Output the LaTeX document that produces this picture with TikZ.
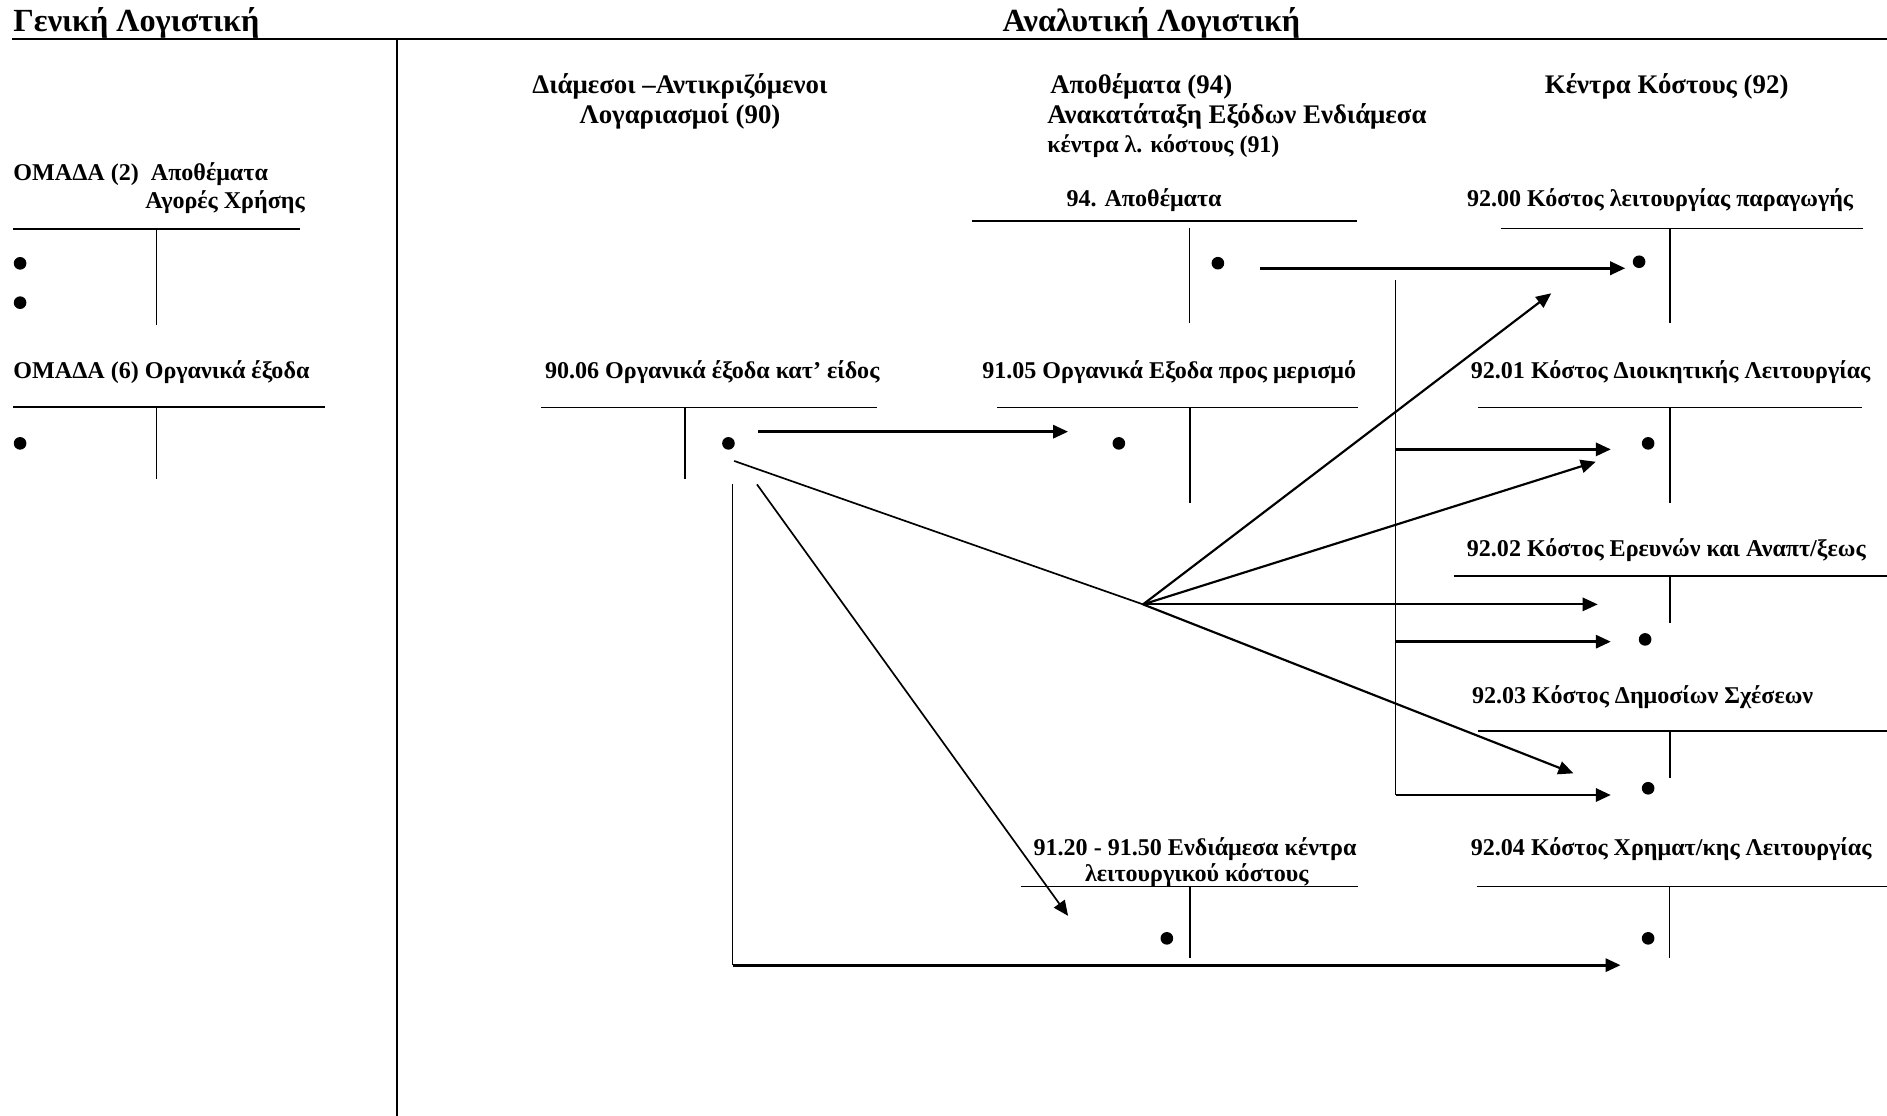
\documentclass[tikz,border=0pt]{standalone}
\usepackage{fontspec}
\setmainfont{Liberation Serif}
\usetikzlibrary{arrows.meta}
\begin{document}
\begin{tikzpicture}[x=1pt,y=-1pt,
  lbl/.style={inner sep=0pt, anchor=base west, font=\bfseries\fontsize{20}{23}\selectfont},
  hdr/.style={inner sep=0pt, anchor=base west, font=\bfseries\fontsize{26.8}{30}\selectfont},
  sub/.style={inner sep=0pt, anchor=base west, font=\bfseries\fontsize{22.3}{26}\selectfont},
  small/.style={inner sep=0pt, anchor=base west, font=\bfseries\fontsize{19.9}{23}\selectfont},
  tline/.style={line width=1.3pt},
  rule/.style={line width=1.7pt},
  harr/.style={line width=2.2pt, -{Triangle[length=12.5pt,width=11pt]}},
  darr/.style={line width=1.8pt, -{Triangle[length=12.5pt,width=11pt]}},
  tarr/.style={line width=1.4pt, -{Triangle[length=12.5pt,width=11pt]}},
  vline/.style={line width=1.4pt},
  dot/.style={circle, fill=black, inner sep=0pt, minimum size=10.5pt},
]
\fill[white] (0,0) rectangle (1568,927);
\useasboundingbox (0,0) rectangle (1568,927);

% headers
\node[hdr] (gen) at (11,26.3) {Γενική Λογιστική};
\node[hdr] (anal) at (833,26.3) {Αναλυτική Λογιστική};
\coordinate (topL) at (10,32.7);
\coordinate (topR) at (1568,32.7);
\draw[rule] (topL) -- (topR);
\coordinate (divT) at (330,32.7);
\coordinate (divB) at (330,927);
\draw[rule] (divT) -- (divB);

% left: group 2
\node[lbl] (g2a) at (11,149.6) {ΟΜΑΔΑ (2)\ \ Αποθέματα};
\node[lbl] (g2b) at (120.6,173) {Αγορές Χρήσης};
\draw[tline] (11,190.3) -- (249.6,190.3);
\draw[tline] (130,190.3) -- (130,270);
\node[dot] (d2a) at (16.7,218.8) {};
\node[dot] (d2b) at (16.7,251.5) {};

% left: group 6
\node[lbl] (g6) at (11,314.4) {ΟΜΑΔΑ (6) Οργανικά έξοδα};
\draw[tline] (11,338) -- (269.7,338);
\draw[tline] (130,338) -- (130,398);
\node[dot] (d6) at (16.7,368.4) {};

% middle headers
\node[sub, anchor=base] (h90a) at (565,77.6) {Διάμεσοι –Αντικριζόμενοι};
\node[sub, anchor=base] (h90b) at (565,103) {Λογαριασμοί (90)};
\node[sub] (h94) at (872.5,77.6) {Αποθέματα (94)};
\node[sub] (h91a) at (870,103) {Ανακατάταξη Εξόδων Ενδιάμεσα};
\node[small] (h91b) at (870,126.5) {κέντρα λ. κόστους (91)};
\node[sub] (h92) at (1283.5,77.6) {Κέντρα Κόστους (92)};

% 94
\node[lbl] (t94) at (886,172) {94. Αποθέματα};
\draw[tline] (808,183.4) -- (1127.8,183.4);
\draw[tline] (988.4,189.6) -- (988.4,268.5);
\node[dot] (d94) at (1012,218.7) {};

% 92.00
\node[lbl] (t9200) at (1218.8,172) {92.00 Κόστος λειτουργίας παραγωγής};
\draw[tline] (1247,189.7) -- (1548,189.7);
\draw[tline] (1387.7,189.7) -- (1387.7,268.6);
\node[dot] (d9200) at (1362,217.5) {};

% 90.06
\node[lbl] (t9006) at (452.7,314.4) {90.06 Οργανικά έξοδα κατ’ είδος};
\draw[tline] (449.8,338.5) -- (728.8,338.5);
\draw[tline] (569,338.5) -- (569,398);
\node[dot] (d9006) at (605.3,368.4) {};

% 91.05
\node[lbl] (t9105) at (816,314.4) {91.05 Οργανικά Εξοδα προς μερισμό};
\draw[tline] (828.5,338.5) -- (1128,338.5);
\draw[tline] (988.9,338.5) -- (988.9,418);
\node[dot] (d9105) at (929.7,368.4) {};

% 92.01
\node[lbl] (t9201) at (1222,314.4) {92.01 Κόστος Διοικητικής Λειτουργίας};
\draw[tline] (1228,338.5) -- (1547,338.5);
\draw[tline] (1387.7,338.5) -- (1387.7,418);
\node[dot] (d9201) at (1369.5,368.4) {};

% 92.02
\node[lbl] (t9202) at (1218.7,462.6) {92.02 Κόστος Ερευνών και Αναπτ/ξεως};
\draw[tline] (1207.8,478.4) -- (1568,478.4);
\draw[tline] (1387.7,478.4) -- (1387.7,518);
\node[dot] (d9202) at (1367,531.3) {};

% 92.03
\node[lbl] (t9203) at (1223,584.5) {92.03 Κόστος Δημοσίων Σχέσεων};
\draw[tline] (1228,607.4) -- (1568,607.4);
\draw[tline] (1387.7,607.4) -- (1387.7,646.8);
\node[dot] (d9203) at (1369.5,655) {};

% 91.20 - 91.50
\node[lbl, anchor=base] (t9120a) at (993,710.5) {91.20 - 91.50 Ενδιάμεσα κέντρα};
\node[lbl, anchor=base] (t9120b) at (994.5,732.7) {λειτουργικού κόστους};
\draw[tline] (848,736.8) -- (1128,736.8);
\draw[tline] (988.6,736.8) -- (988.6,796.3);
\node[dot] (d9120) at (969.6,779.7) {};

% 92.04
\node[lbl] (t9204) at (1222,710.5) {92.04 Κόστος Χρηματ/κης Λειτουργίας};
\draw[tline] (1227,736.8) -- (1568,736.8);
\draw[tline] (1387.3,736.8) -- (1387.3,796.3);
\node[dot] (d9204) at (1369.5,779.7) {};

% connector coordinates
\coordinate (a94s) at (1047,222.9);
\coordinate (a94e) at (1350.5,222.9);
\coordinate (busT) at (1159.6,233);
\coordinate (bus1) at (1159.6,373.4);
\coordinate (bus2) at (1159.6,533.2);
\coordinate (busB) at (1159.6,660.6);
\coordinate (e9201) at (1338.5,373.4);
\coordinate (e9202) at (1338.5,533.2);
\coordinate (e9203) at (1338.5,660.6);
\coordinate (a90s) at (630,358.7);
\coordinate (a90e) at (887.5,358.7);
\coordinate (fanS) at (610,383);
\coordinate (F) at (949.8,502.2);
\coordinate (f1) at (1289,243.7);
\coordinate (f2) at (1326,383.7);
\coordinate (f3) at (1327.6,502.2);
\coordinate (f4) at (1307.4,642.6);
\coordinate (stS) at (629,402.5);
\coordinate (stE) at (887.5,761);
\coordinate (LT) at (608.7,402.5);
\coordinate (LC) at (608.7,802);
\coordinate (LE) at (1346.6,802);

% connectors
\draw[harr] (a94s) -- (a94e);
\draw[vline] (busT) -- (busB);
\draw[harr] (bus1) -- (e9201);
\draw[harr] (bus2) -- (e9202);
\draw[harr] (busB) -- (e9203);
\draw[harr] (a90s) -- (a90e);
\draw[line width=1.4pt] (fanS) -- (F);
\draw[darr] (F) -- (f1);
\draw[darr] (F) -- (f2);
\draw[darr] (F) -- (f3);
\draw[darr] (F) -- (f4);
\draw[tarr] (stS) -- (stE);
\draw[vline] (LT) -- (LC);
\draw[harr] (LC) -- (LE);
\end{tikzpicture}
\end{document}
